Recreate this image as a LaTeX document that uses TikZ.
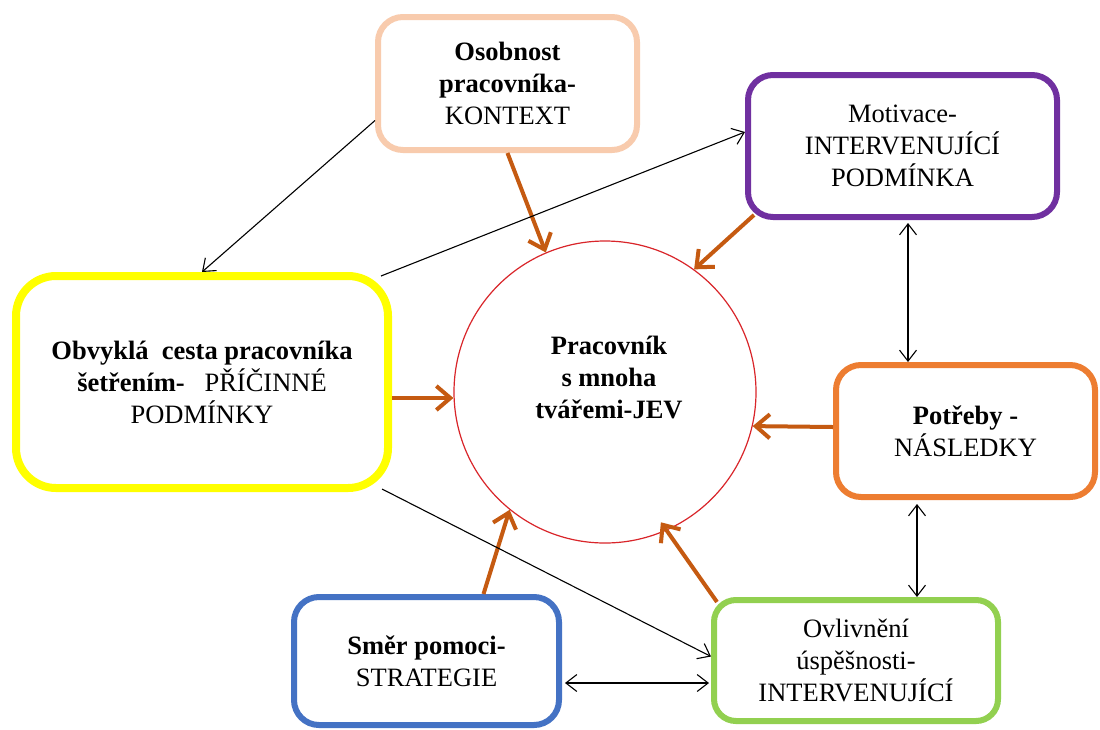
\documentclass[tikz,border=0pt]{standalone}
\usepackage{fontspec}
\setmainfont{Liberation Serif}
\usetikzlibrary{arrows.meta}
\definecolor{peach}{HTML}{F8CBAD}
\definecolor{purp}{HTML}{7030A0}
\definecolor{yel}{HTML}{FFFF00}
\definecolor{orbox}{HTML}{ED7D31}
\definecolor{blu}{HTML}{4472C4}
\definecolor{grn}{HTML}{92D050}
\definecolor{orarr}{HTML}{C55A11}
\definecolor{redc}{HTML}{D9252A}
\tikzset{
  box/.style={draw, rectangle, rounded corners=25pt, align=center, fill=white,
    font=\fontsize{26.5}{32}\selectfont, inner sep=0pt},
  bigarrow/.style={draw=orarr, line width=4pt, -{Straight Barb[length=14pt,width=24pt,line width=4pt]}},
  thinarrow/.style={draw=black, line width=1.1pt, -{Straight Barb[length=11pt,width=17pt,line width=1.1pt]}},
  dblarrow/.style={draw=black, line width=1.1pt, {Straight Barb[length=11pt,width=17pt,line width=1.1pt]}-{Straight Barb[length=11pt,width=17pt,line width=1.1pt]}},
}
\begin{document}
\begin{tikzpicture}[x=1pt,y=-1pt]
\useasboundingbox[fill=white] (0,0) rectangle (1100,729);
% circle
\node[draw=redc, line width=1.2pt, circle, minimum size=302pt, inner sep=0pt] (jev) at (605,392) {};
\node[align=center, font=\fontsize{26.5}{32}\selectfont\bfseries] (jevt) at (609,377) {Pracovník\\s mnoha\\tvářemi-JEV};
% boxes
\node[box, draw=peach, line width=6pt, minimum width=259pt, minimum height=133pt] (osob) at (507.5,83.5)
  {\textbf{Osobnost}\\\textbf{pracovníka-}\\KONTEXT};
\node[box, draw=purp, line width=6pt, minimum width=309pt, minimum height=142pt] (motiv) at (902.5,146)
  {Motivace-\\INTERVENUJÍCÍ\\PODMÍNKA};
\node[box, draw=yel, line width=8pt, rounded corners=40pt, minimum width=372pt, minimum height=212pt] (obv) at (202,382)
  {\textbf{Obvyklá\ \ cesta pracovníka}\\\textbf{šetřením-}\ \ \ PŘÍČINNÉ\\PODMÍNKY};
\node[box, draw=orbox, line width=6pt, minimum width=259pt, minimum height=132pt] (potr) at (965.5,431)
  {\textbf{Potřeby -}\\NÁSLEDKY};
\node[box, draw=blu, line width=6pt, minimum width=265pt, minimum height=128pt] (smer) at (426.5,661)
  {\textbf{Směr pomoci-}\\STRATEGIE};
\node[box, draw=grn, line width=6pt, rounded corners=22pt, minimum width=284pt, minimum height=121pt] (ovl) at (856,660.5)
  {Ovlivnění\\úspěšnosti-\\INTERVENUJÍCÍ};
% orange arrows
\draw[bigarrow] (osob.south) -- (jev.113);
\draw[bigarrow] ([xshift=9pt,yshift=5pt]motiv.south west) -- (jev.54);
\draw[bigarrow] ([yshift=-16pt]obv.east) -- ([yshift=-6pt]jev.west);
\draw[bigarrow] ([yshift=4pt]potr.west) -- (jev.-13.4);
\draw[bigarrow] ([xshift=57pt]smer.north) -- (jev.-129);
\draw[bigarrow, shorten >=-10pt] ([xshift=6pt,yshift=-5pt]ovl.north west) -- (jev.-66);
% black arrows
\draw[thinarrow] ([yshift=-37pt]osob.west) -- (obv.north);
\draw[thinarrow] ([xshift=-11pt,yshift=-4pt]obv.north east) -- ([yshift=14pt]motiv.west);
\draw[thinarrow] ([xshift=-10pt,yshift=3pt]obv.south east) -- ([yshift=4pt]ovl.west);
\draw[dblarrow] ([xshift=5.5pt,yshift=-3pt]motiv.south) -- ([xshift=-57.5pt]potr.north);
\draw[dblarrow] ([xshift=-48.5pt,yshift=-4pt]potr.south) -- ([xshift=61pt]ovl.north);
\draw[dblarrow] ([yshift=-22pt,xshift=3pt]smer.east) -- ([yshift=-22.5pt,xshift=-2pt]ovl.west);
\end{tikzpicture}
\end{document}
